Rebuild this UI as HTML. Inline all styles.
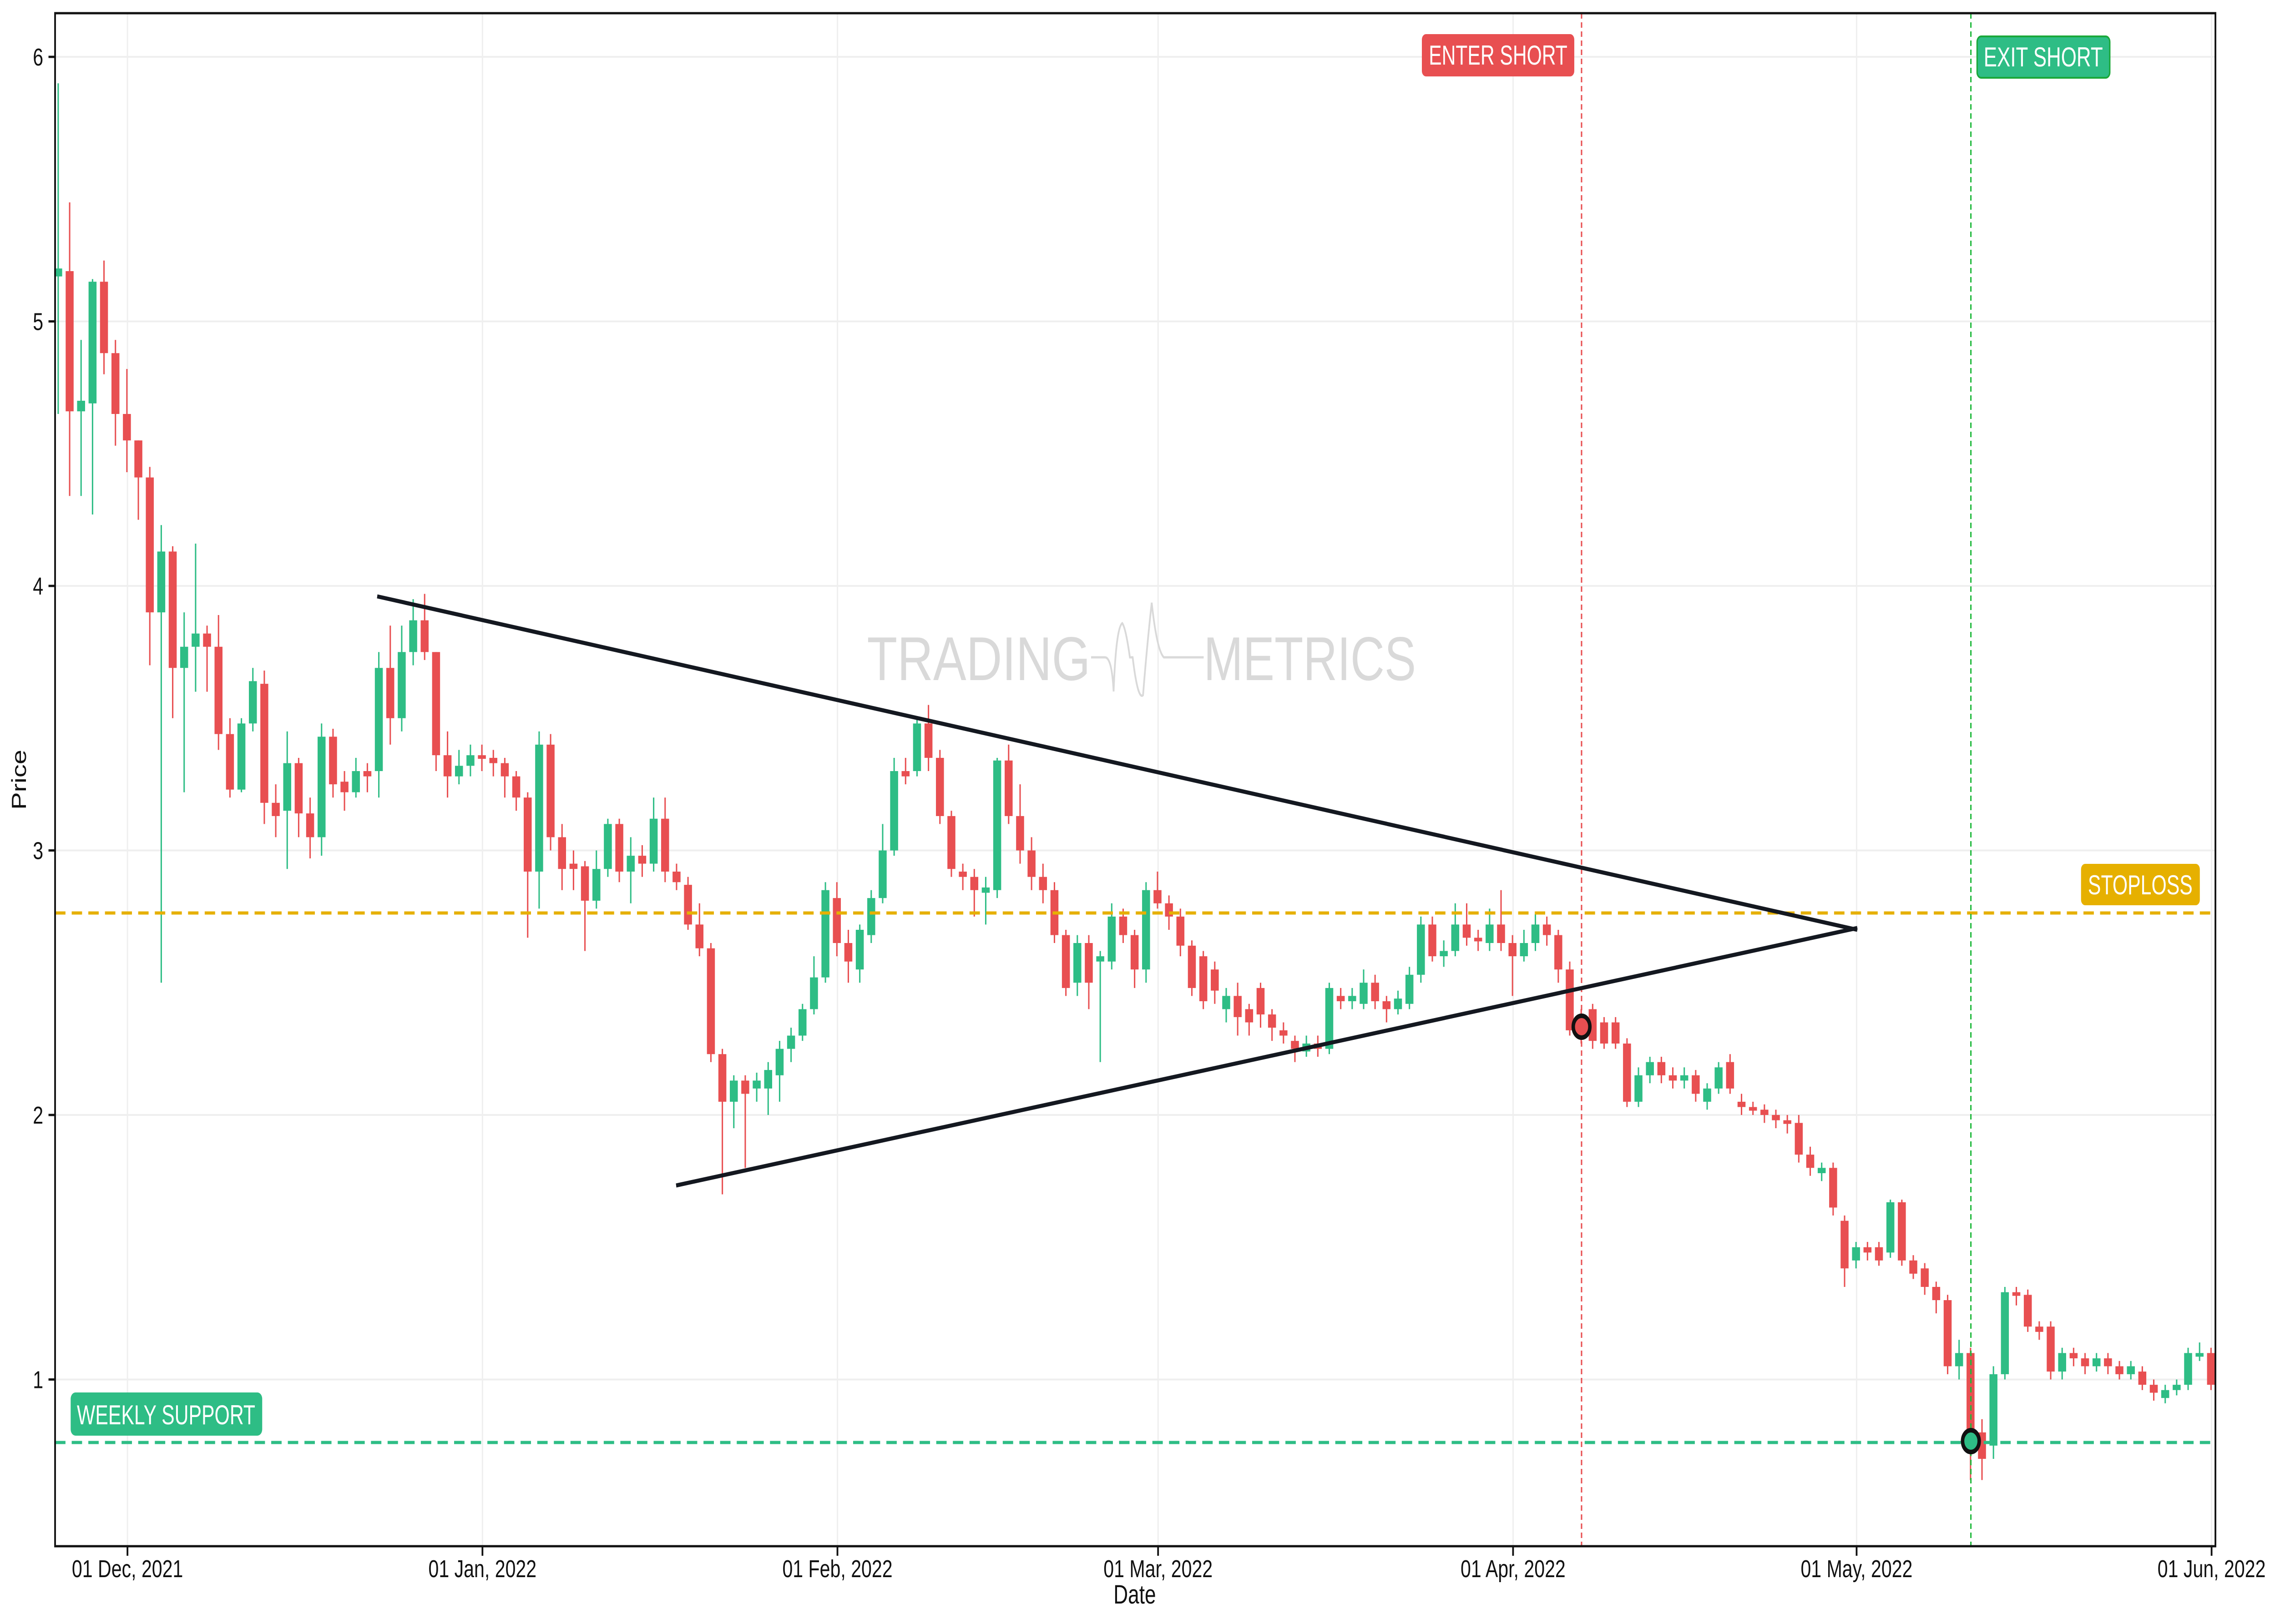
<!DOCTYPE html>
<html><head><meta charset="utf-8"><style>
html,body{margin:0;padding:0;background:#fff;width:100%;height:100%;overflow:hidden;}
svg{display:block;position:fixed;left:0;top:0;width:100vw;height:100vh;}
text{font-family:"Liberation Sans",sans-serif;}
</style></head><body>
<svg id="c" viewBox="0 0 6568 3570" preserveAspectRatio="none" xmlns="http://www.w3.org/2000/svg">
<rect width="6568" height="3570" fill="#fff"/>
<g id="grid" stroke="#efefef" stroke-width="4"></g>
<g id="wm" fill="#d9d9d9">
<text x="2503" y="1495" font-size="136" textLength="645" lengthAdjust="spacingAndGlyphs">TRADING</text>
<text x="3475" y="1495" font-size="136" textLength="613" lengthAdjust="spacingAndGlyphs">METRICS</text>
<path d="M3150 1445 L3190 1445 Q3210 1445 3215 1520 Q3222 1380 3240 1370 Q3250 1380 3262 1445 L3270 1445 Q3285 1540 3300 1528 Q3310 1430 3325 1325 Q3340 1430 3360 1445 L3475 1445" fill="none" stroke="#d9d9d9" stroke-width="5"/>
</g>
<g id="candles"></g>
<line x1="159" y1="2007" x2="6396" y2="2007" stroke="#e6b000" stroke-width="7" stroke-dasharray="30,18"/>
<line x1="159" y1="3171" x2="6396" y2="3171" stroke="#2ebd85" stroke-width="7" stroke-dasharray="30,18"/>
<line x1="4566" y1="29" x2="4566" y2="3399" stroke="#e84f51" stroke-width="4" stroke-dasharray="12,8"/>
<line x1="5690" y1="29" x2="5690" y2="3399" stroke="#1db83a" stroke-width="4" stroke-dasharray="12,8"/>
<line x1="1089" y1="1311" x2="5362" y2="2044" stroke="#141820" stroke-width="9"/>
<line x1="1952" y1="2606" x2="5362" y2="2040" stroke="#141820" stroke-width="9"/>
<circle cx="4566" cy="2257" r="24" fill="#e84f51" stroke="#111" stroke-width="10"/>
<circle cx="5690" cy="3168" r="24" fill="#2ebd85" stroke="#111" stroke-width="10"/>
<rect x="4105" y="75" width="440" height="93" rx="12" fill="#e84f51"/>
<text x="4125" y="142" font-size="60" fill="#fff" textLength="400" lengthAdjust="spacingAndGlyphs">ENTER SHORT</text>
<rect x="5708" y="80" width="383" height="91" rx="12" fill="#2ebd85" stroke="#1aa83a" stroke-width="4"/>
<text x="5727" y="146" font-size="60" fill="#fff" textLength="344" lengthAdjust="spacingAndGlyphs">EXIT SHORT</text>
<rect x="6008" y="1899" width="343" height="91" rx="12" fill="#e6b000"/>
<text x="6028" y="1966" font-size="60" fill="#fff" textLength="302" lengthAdjust="spacingAndGlyphs">STOPLOSS</text>
<rect x="204" y="3061" width="553" height="95" rx="14" fill="#2ebd85"/>
<text x="222" y="3131" font-size="60" fill="#fff" textLength="515" lengthAdjust="spacingAndGlyphs">WEEKLY SUPPORT</text>
<rect x="159" y="29" width="6237" height="3370" fill="none" stroke="#111" stroke-width="5"/>
<g id="ticks" stroke="#111" stroke-width="5"></g>
<g id="lbl" font-size="54" fill="#111"></g>
<text x="3276" y="3525" font-size="58" fill="#111" text-anchor="middle">Date</text>
<text transform="translate(75,1714) rotate(-90)" font-size="58" fill="#111" text-anchor="middle">Price</text>
</svg>
<script>
var NS="http://www.w3.org/2000/svg";
function Y(p){return 125+(6-p)*581.5;}
function X(i){return 168+i*33.06;}
function el(t,a,parent){var e=document.createElementNS(NS,t);for(var k in a)e.setAttribute(k,a[k]);document.getElementById(parent).appendChild(e);return e;}
for(var p=1;p<=6;p++){el('line',{x1:159,x2:6396,y1:Y(p),y2:Y(p)},'grid');}
var months=[["01 Dec, 2021",0],["01 Jan, 2022",31],["01 Feb, 2022",62],["01 Mar, 2022",90],["01 Apr, 2022",121],["01 May, 2022",151],["01 Jun, 2022",182]];
months.forEach(function(m){var x=368+m[1]*33.06;el('line',{x1:x,x2:x,y1:29,y2:3399},'grid');el('line',{x1:x,x2:x,y1:3399,y2:3420},'ticks');var t=el('text',{x:x,y:3467,'text-anchor':'middle'},'lbl');t.textContent=m[0];});
for(var p=1;p<=6;p++){el('line',{x1:140,x2:159,y1:Y(p),y2:Y(p)},'ticks');var t=el('text',{x:125,y:Y(p)+19,'text-anchor':'end'},'lbl');t.textContent=p;}
var D=[[5.17,5.2,5.9,4.65],[5.19,4.66,5.45,4.34],[4.66,4.7,4.93,4.34],[4.69,5.15,5.16,4.27],[5.15,4.88,5.23,4.8],[4.88,4.65,4.93,4.53],[4.65,4.55,4.82,4.43],[4.55,4.41,4.55,4.25],[4.41,3.9,4.45,3.7],[3.9,4.13,4.23,2.5],
[4.13,3.69,4.15,3.5],[3.69,3.77,3.9,3.22],[3.77,3.82,4.16,3.6],[3.82,3.77,3.85,3.6],[3.77,3.44,3.89,3.38],[3.44,3.23,3.5,3.2],[3.23,3.48,3.5,3.22],[3.48,3.64,3.69,3.45],[3.63,3.18,3.68,3.1],[3.18,3.13,3.25,3.05],
[3.15,3.33,3.45,2.93],[3.33,3.14,3.35,3.05],[3.14,3.05,3.2,2.97],[3.05,3.43,3.48,2.98],[3.43,3.25,3.46,3.2],[3.26,3.22,3.3,3.15],[3.22,3.3,3.35,3.2],[3.3,3.28,3.33,3.22],[3.3,3.69,3.75,3.2],[3.69,3.5,3.85,3.4],
[3.5,3.75,3.85,3.45],[3.75,3.87,3.95,3.7],[3.87,3.75,3.97,3.72],[3.75,3.36,3.75,3.3],[3.36,3.28,3.45,3.2],[3.28,3.32,3.38,3.25],[3.32,3.36,3.4,3.28],[3.36,3.35,3.4,3.3],[3.35,3.33,3.38,3.28],[3.33,3.28,3.35,3.2],
[3.28,3.2,3.3,3.15],[3.2,2.92,3.22,2.67],[2.92,3.4,3.45,2.78],[3.4,3.05,3.44,3.0],[3.05,2.93,3.1,2.85],[2.95,2.93,3.0,2.85],[2.94,2.81,2.96,2.62],[2.81,2.93,3.0,2.78],[2.93,3.1,3.12,2.9],[3.1,2.92,3.12,2.88],
[2.92,2.98,3.05,2.8],[2.98,2.95,3.02,2.9],[2.95,3.12,3.2,2.92],[3.12,2.92,3.2,2.88],[2.92,2.88,2.95,2.85],[2.87,2.72,2.9,2.7],[2.72,2.63,2.8,2.6],[2.63,2.23,2.65,2.2],[2.23,2.05,2.25,1.7],[2.05,2.13,2.15,1.95],
[2.13,2.08,2.15,1.8],[2.1,2.13,2.16,2.05],[2.1,2.17,2.2,2.0],[2.15,2.25,2.28,2.05],[2.25,2.3,2.33,2.2],[2.3,2.4,2.42,2.28],[2.4,2.52,2.6,2.38],[2.52,2.85,2.88,2.5],[2.82,2.65,2.88,2.6],[2.65,2.58,2.7,2.5],
[2.55,2.7,2.72,2.5],[2.68,2.82,2.85,2.65],[2.82,3.0,3.1,2.8],[3.0,3.3,3.35,2.98],[3.3,3.28,3.35,3.25],[3.3,3.48,3.5,3.28],[3.48,3.35,3.55,3.3],[3.35,3.13,3.38,3.1],[3.13,2.93,3.15,2.9],[2.92,2.9,2.95,2.85],
[2.9,2.85,2.93,2.75],[2.84,2.86,2.9,2.72],[2.85,3.34,3.35,2.82],[3.34,3.13,3.4,3.1],[3.13,3.0,3.25,2.95],[3.0,2.9,3.05,2.85],[2.9,2.85,2.95,2.8],[2.85,2.68,2.88,2.65],[2.68,2.48,2.7,2.45],[2.5,2.65,2.68,2.45],
[2.65,2.5,2.68,2.4],[2.58,2.6,2.62,2.2],[2.58,2.75,2.8,2.55],[2.75,2.68,2.78,2.65],[2.68,2.55,2.7,2.48],[2.55,2.85,2.88,2.5],[2.85,2.8,2.92,2.78],[2.8,2.75,2.83,2.7],[2.75,2.64,2.78,2.6],[2.64,2.48,2.66,2.45],
[2.6,2.43,2.62,2.4],[2.55,2.47,2.58,2.42],[2.4,2.45,2.48,2.35],[2.45,2.37,2.5,2.3],[2.4,2.35,2.42,2.3],[2.48,2.38,2.5,2.33],[2.38,2.33,2.4,2.28],[2.32,2.3,2.35,2.27],[2.28,2.25,2.3,2.2],[2.24,2.27,2.3,2.22],
[2.27,2.25,2.3,2.22],[2.25,2.48,2.5,2.23],[2.45,2.43,2.48,2.4],[2.43,2.45,2.48,2.4],[2.42,2.5,2.55,2.4],[2.5,2.43,2.53,2.4],[2.43,2.4,2.45,2.35],[2.4,2.44,2.47,2.38],[2.42,2.53,2.56,2.4],[2.53,2.72,2.75,2.5],
[2.72,2.6,2.75,2.58],[2.6,2.62,2.66,2.56],[2.62,2.72,2.8,2.6],[2.72,2.67,2.8,2.64],[2.67,2.66,2.7,2.62],[2.65,2.72,2.78,2.62],[2.72,2.65,2.85,2.62],[2.65,2.6,2.68,2.45],[2.6,2.65,2.7,2.58],[2.65,2.72,2.76,2.62],
[2.72,2.68,2.75,2.64],[2.68,2.55,2.7,2.5],[2.55,2.32,2.58,2.3],[2.33,2.3,2.4,2.27],[2.4,2.28,2.42,2.25],[2.35,2.27,2.37,2.25],[2.35,2.27,2.37,2.25],[2.27,2.05,2.29,2.03],[2.05,2.15,2.18,2.03],[2.15,2.2,2.22,2.12],
[2.2,2.15,2.22,2.12],[2.15,2.13,2.18,2.1],[2.13,2.15,2.18,2.1],[2.15,2.08,2.17,2.05],[2.05,2.1,2.12,2.02],[2.1,2.18,2.2,2.08],[2.2,2.1,2.23,2.08],[2.05,2.03,2.08,2.0],[2.03,2.02,2.05,2.0],[2.02,2.0,2.04,1.97],
[2.0,1.98,2.02,1.95],[1.98,1.97,2.0,1.93],[1.97,1.85,2.0,1.82],[1.85,1.8,1.88,1.77],[1.78,1.8,1.82,1.75],[1.8,1.65,1.82,1.62],[1.6,1.42,1.62,1.35],[1.45,1.5,1.52,1.42],[1.5,1.48,1.52,1.45],[1.5,1.45,1.52,1.43],
[1.48,1.67,1.68,1.46],[1.67,1.45,1.68,1.43],[1.45,1.4,1.47,1.38],[1.42,1.35,1.44,1.32],[1.35,1.3,1.37,1.25],[1.3,1.05,1.32,1.02],[1.05,1.1,1.15,1.0],[1.1,0.77,1.12,0.62],[0.8,0.7,0.85,0.62],[0.75,1.02,1.05,0.7],
[1.02,1.33,1.35,1.0],[1.33,1.32,1.35,1.28],[1.32,1.2,1.34,1.18],[1.2,1.18,1.22,1.15],[1.2,1.03,1.22,1.0],[1.03,1.1,1.12,1.0],[1.1,1.08,1.12,1.05],[1.08,1.05,1.1,1.02],[1.05,1.08,1.1,1.03],[1.08,1.05,1.1,1.02],
[1.05,1.02,1.07,1.0],[1.02,1.05,1.07,1.0],[1.03,0.98,1.05,0.96],[0.98,0.95,1.0,0.92],[0.93,0.96,0.98,0.91],[0.96,0.98,1.0,0.94],[0.98,1.1,1.12,0.96],[1.1,1.1,1.14,1.07],[1.1,0.98,1.12,0.96]];
D.forEach(function(d,i){var x=X(i),o=d[0],c=d[1],up=c>=o,col=up?'#2ebd85':'#e84f51';
el('line',{x1:x,x2:x,y1:Y(d[2]),y2:Y(d[3]),stroke:col,'stroke-width':4},'candles');
var t=Y(Math.max(o,c)),b=Y(Math.min(o,c));if(b-t<8){b=t+8;}
el('rect',{x:x-11.5,y:t,width:23,height:b-t,fill:col},'candles');});
</script>
</body></html>
